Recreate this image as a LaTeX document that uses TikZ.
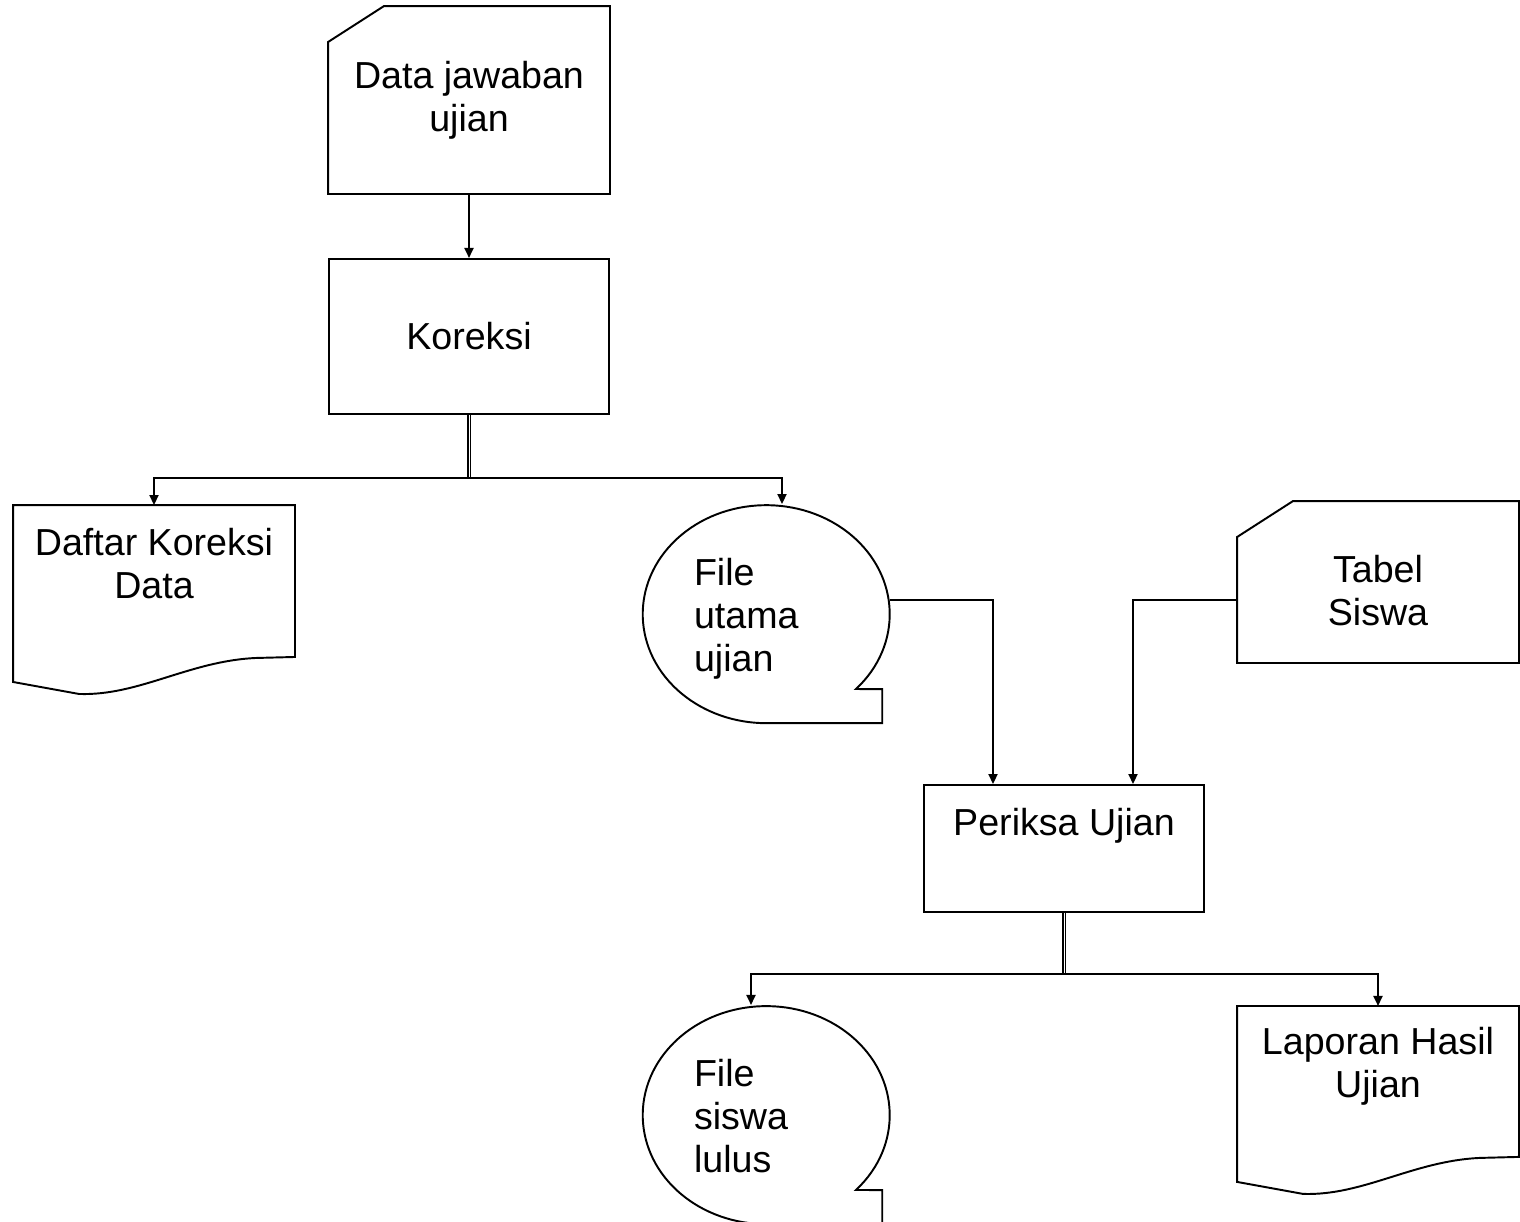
\documentclass[tikz,border=0pt]{standalone}
\usepackage{fontspec}
\setmainfont{Liberation Sans}
\usetikzlibrary{shapes, calc, positioning, arrows.meta}

\newcommand{\cardoutline}[1]{\draw (#1.north east) -- (#1.south east) -- (#1.south west) -- ([yshift=-0.72cm]#1.north west) -- ([xshift=1.12cm]#1.north west) -- cycle;}
\newcommand{\docoutline}[1]{\draw (#1.south east) -- (#1.north east) -- (#1.north west) -- ([yshift=-0.5cm]#1.south west) -- ([shift={(1.32,-0.74)}]#1.south west) .. controls ([shift={(2.52,-0.78)}]#1.south west) and ([shift={(3.52,-0.08)}]#1.south west) .. ([shift={(4.86,-0.02)}]#1.south west) -- cycle;}
\newcommand{\tapeoutline}[1]{\draw ([shift={(1.8,-1.5)}]#1.center) arc[start angle=-43.36, end angle=270, x radius=2.47cm, y radius=2.18cm] -- ++(2.32,0) -- ++(0,0.68) -- cycle;}

\begin{document}
\begin{tikzpicture}[
    line width=1.1pt,
    font=\fontsize{21.4}{24.5}\selectfont,
    ]
    \tikzstyle{card}=[ rectangle, minimum width=5.6cm, inner sep=0pt, align=center ]
    \tikzstyle{proc}=[ draw, rectangle, minimum width=5.6cm, inner sep=0pt, align=center ]
    \tikzstyle{doc}=[ rectangle, minimum width=5.6cm, minimum height=3cm, inner sep=0pt, align=center ]
    \tikzstyle{tape}=[ ellipse, minimum width=4.94cm, minimum height=4.36cm, inner sep=0pt, text width=2.88cm, align=left, text height=0.3cm, text depth=1.44cm ]
    \tikzstyle{flow}=[ -{Triangle[length=2mm,width=1.8mm]} ]
    \tikzstyle{split}=[ double, double distance=0.5pt, line width=0.85pt ]
    \useasboundingbox (0,0) rectangle (30.4,-24.42);
    % input and first process
    \node[card, minimum height=3.72cm] (data) at (9.38,-2.0) {Data jawaban\\ujian};
    \node[proc, minimum height=3.1cm] (koreksi) [below=1.28cm of data] {Koreksi};
    \node[doc, text height=1.4cm, text depth=0.7cm] (daftar) at (3.08,-11.62) {Daftar Koreksi\\Data};
    \node[tape] (fileutama) at (15.32,-12.28) {File\\utama\\ujian};
    % second process
    \node[card, minimum height=3.2cm, text height=1.74cm, text depth=0pt] (tabel) at (27.56,-11.64) {Tabel\\Siswa};
    \node[proc, minimum height=2.54cm, text height=0.3cm, text depth=0.82cm] (periksa) at (21.28,-16.97) {Periksa Ujian};
    \node[tape] (filesiswa) [below=5.62cm of fileutama] {File\\siswa\\lulus};
    \node[doc, minimum height=2.98cm, text height=1.34cm, text depth=0.7cm] (laporan) [below=6.86cm of tabel] {Laporan Hasil\\Ujian};
    \cardoutline{data}
    \cardoutline{tabel}
    \docoutline{daftar}
    \docoutline{laporan}
    \tapeoutline{fileutama}
    \tapeoutline{filesiswa}
    \coordinate (j1) at ($(koreksi.south)+(0,-1.26)$);
    \coordinate (j2) at ($(periksa.south)+(0,-1.22)$);
    % connectors
    \draw[flow] (data) -- (koreksi);
    \draw[split] (koreksi.south) -- (j1);
    \draw[flow] (j1) -| (daftar.north);
    \draw[flow] (j1) -| ([xshift=0.32cm]fileutama.north);
    \draw[flow] ([yshift=0.28cm]fileutama.east) -| ([xshift=-1.42cm]periksa.north);
    \draw[flow] ([yshift=-0.36cm]tabel.west) -| ([xshift=1.38cm]periksa.north);
    \draw[split] (periksa.south) -- (j2);
    \draw[flow] (j2) -| ([xshift=-0.3cm]filesiswa.north);
    \draw[flow] (j2) -| (laporan.north);
  \end{tikzpicture}
\end{document}
